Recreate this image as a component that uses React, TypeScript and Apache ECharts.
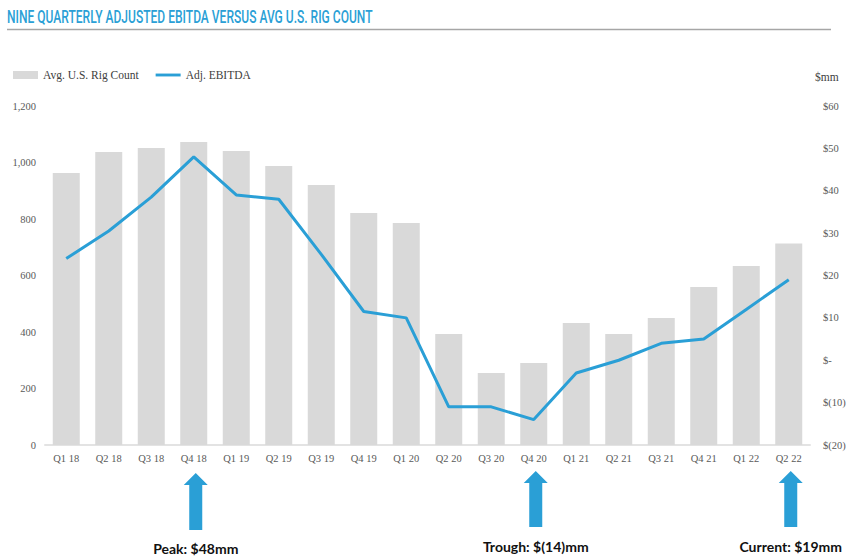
import React, { useEffect, useRef } from "react";
import * as echarts from "echarts";

const categories = [
  "Q1 18", "Q2 18", "Q3 18", "Q4 18", "Q1 19", "Q2 19", "Q3 19", "Q4 19", "Q1 20",
  "Q2 20", "Q3 20", "Q4 20", "Q1 21", "Q2 21", "Q3 21", "Q4 21", "Q1 22", "Q2 22",
];
const rigCount = [963, 1037, 1051, 1073, 1041, 988, 920, 821, 786, 393, 255, 290, 432, 393, 450, 559, 634, 713];
const ebitda = [24, 30.5, 38.5, 48, 39, 38, 25, 11.5, 10, -11, -11, -14, -3, 0, 4, 5, 12, 19];
const leftAxis = { min: 0, max: 1200, interval: 200 };
const rightAxis = { min: -20, max: 60, interval: 10 };
const annotations = [
  { category: "Q4 18", label: "Peak: $48mm" },
  { category: "Q4 20", label: "Trough: $(14)mm" },
  { category: "Q2 22", label: "Current: $19mm" },
];
const titleText = "NINE QUARTERLY ADJUSTED EBITDA VERSUS AVG U.S. RIG COUNT";

const BLUE = "#2a9fd6";
const GRAY_BAR = "#d9d9d9";
const SERIF = "'Liberation Serif', 'DejaVu Serif', serif";
const TITLE_FONT = "500 19px 'Roboto', 'Noto Sans', sans-serif";

function measure(font: string, text: string): number {
  const c = document.createElement("canvas");
  const ctx = c.getContext("2d");
  if (!ctx) return 1;
  ctx.font = font;
  return ctx.measureText(text).width;
}

export default function App() {
  const ref = useRef<HTMLDivElement>(null);
  useEffect(() => {
    if (!ref.current) return;
    const chart = echarts.init(ref.current, undefined, { renderer: "svg" });
    const titleW = measure(TITLE_FONT, titleText);
    const titleScale = 366 / titleW;
    chart.setOption({
      animation: false,
      grid: { left: 45, right: 46, top: 106, bottom: 112, containLabel: false },
      legend: {
        left: 13,
        top: 69,
        padding: 0,
        itemWidth: 25,
        itemHeight: 8,
        itemGap: 17,
        textStyle: { fontFamily: SERIF, fontSize: 11.5, color: "#404040" },
        data: [
          { name: "Avg. U.S. Rig Count", icon: "rect" },
          { name: "Adj. EBITDA", icon: "path://M0,0L26,0L26,3L0,3Z" },
        ],
      },
      xAxis: {
        type: "category",
        data: categories,
        axisLine: { show: true, lineStyle: { color: "#e3e3e3", width: 2 } },
        axisTick: { show: false },
        axisLabel: { fontFamily: SERIF, fontSize: 10.5, color: "#595959", margin: 8, interval: 0 },
      },
      yAxis: [
        {
          type: "value",
          min: leftAxis.min,
          max: leftAxis.max,
          interval: leftAxis.interval,
          splitLine: { show: false },
          axisLine: { show: false },
          axisTick: { show: false },
          axisLabel: {
            fontFamily: SERIF,
            fontSize: 10.5,
            color: "#595959",
            margin: 9,
            formatter: (v: number) => v.toLocaleString("en-US"),
          },
        },
        {
          type: "value",
          position: "right",
          min: rightAxis.min,
          max: rightAxis.max,
          interval: rightAxis.interval,
          splitLine: { show: false },
          axisLine: { show: false },
          axisTick: { show: false },
          axisLabel: {
            fontFamily: SERIF,
            fontSize: 10.5,
            color: "#595959",
            margin: 13,
            formatter: (v: number) => (v < 0 ? `$(${-v})` : v === 0 ? "$-" : `$${v}`),
          },
        },
      ],
      series: [
        {
          name: "Avg. U.S. Rig Count",
          type: "bar",
          data: rigCount,
          barWidth: 27,
          itemStyle: { color: GRAY_BAR },
          yAxisIndex: 0,
        },
        {
          name: "Adj. EBITDA",
          type: "line",
          data: ebitda,
          yAxisIndex: 1,
          symbol: "none",
          showSymbol: false,
          lineStyle: { color: BLUE, width: 3 },
          itemStyle: { color: BLUE },
        },
      ],
    });

    const graphics: any[] = [
      {
        type: "text",
        x: 7,
        y: 16,
        scaleX: titleScale,
        style: {
          text: titleText,
          font: TITLE_FONT,
          fill: BLUE,
          textVerticalAlign: "middle",
        },
      },
      {
        type: "line",
        shape: { x1: 7, y1: 29.5, x2: 831, y2: 29.5 },
        style: { stroke: "#a6a6a6", lineWidth: 1.5 },
      },
      {
        type: "text",
        x: 815,
        y: 77,
        style: { text: "$mm", fontFamily: SERIF, fontSize: 11.5, fill: "#404040", textVerticalAlign: "middle" },
      },
    ];
    annotations.forEach((a, i) => {
      const px = (chart.convertToPixel({ xAxisIndex: 0 }, a.category) as number) + 2;
      const tip = i === 0 ? 473 : 471;
      const bottom = i === 0 ? 530 : 527;
      const headBase = tip + 12;
      graphics.push({
        type: "polygon",
        shape: {
          points: [
            [px, tip],
            [px + 12, headBase],
            [px + 6.5, headBase],
            [px + 6.5, bottom],
            [px - 6.5, bottom],
            [px - 6.5, headBase],
            [px - 12, headBase],
          ],
        },
        style: { fill: BLUE },
      });
      graphics.push({
        type: "text",
        x: px,
        y: i === 0 ? 548 : 546,
        style: {
          text: a.label,
          fontFamily: "'Lato', 'Noto Sans', sans-serif",
          fontWeight: "bold",
          fontSize: 14,
          fill: "#111111",
          textAlign: "center",
          textVerticalAlign: "middle",
        },
      });
    });
    chart.setOption({ graphic: graphics });
    return () => chart.dispose();
  }, []);
  return <div ref={ref} style={{ width: 856, height: 557, position: "absolute", left: 0, top: 0 }} />;
}
